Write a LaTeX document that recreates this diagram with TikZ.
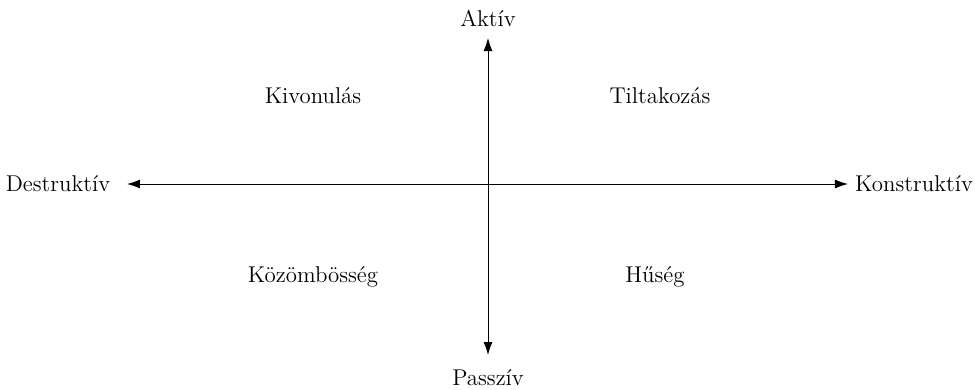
\documentclass[tikz,border=0pt]{standalone}
\usetikzlibrary{arrows.meta}
\begin{document}
\begin{tikzpicture}[
    axis/.style={line width=0.5pt, {Latex[length=2.6mm,width=1.8mm]}-{Latex[length=2.6mm,width=1.8mm]}},
    lbl/.style={font=\fontsize{13}{15}\selectfont, inner sep=0pt}
  ]

    % Fix the page size
    \useasboundingbox (-9.76,-4.1) rectangle (9.74,3.68);

    % Axis end points
    \coordinate (west) at (-7.22,0);
    \coordinate (east) at (7.2,0);
    \coordinate (north) at (0,2.92);
    \coordinate (south) at (0,-3.42);

    % Axes
    \draw[axis] (west) -- (east);
    \draw[axis] (south) -- (north);

    % Axis labels
    \node[lbl] (aktiv) at (0,3.32) {Aktív};
    \node[lbl] (passziv) at (0,-3.88) {Passzív};
    \node[lbl] (destr) at (-8.6,0) {Destruktív};
    \node[lbl] (konstr) at (8.52,0) {Konstruktív};

    % Quadrant labels
    \node[lbl] (kivon) at (-3.5,1.76) {Kivonulás};
    \node[lbl] (tiltak) at (3.44,1.76) {Tiltakozás};
    \node[lbl] (kozomb) at (-3.5,-1.86) {Közömbösség};
    \node[lbl] (huseg) at (3.34,-1.86) {Hűség};

\end{tikzpicture}
\end{document}
